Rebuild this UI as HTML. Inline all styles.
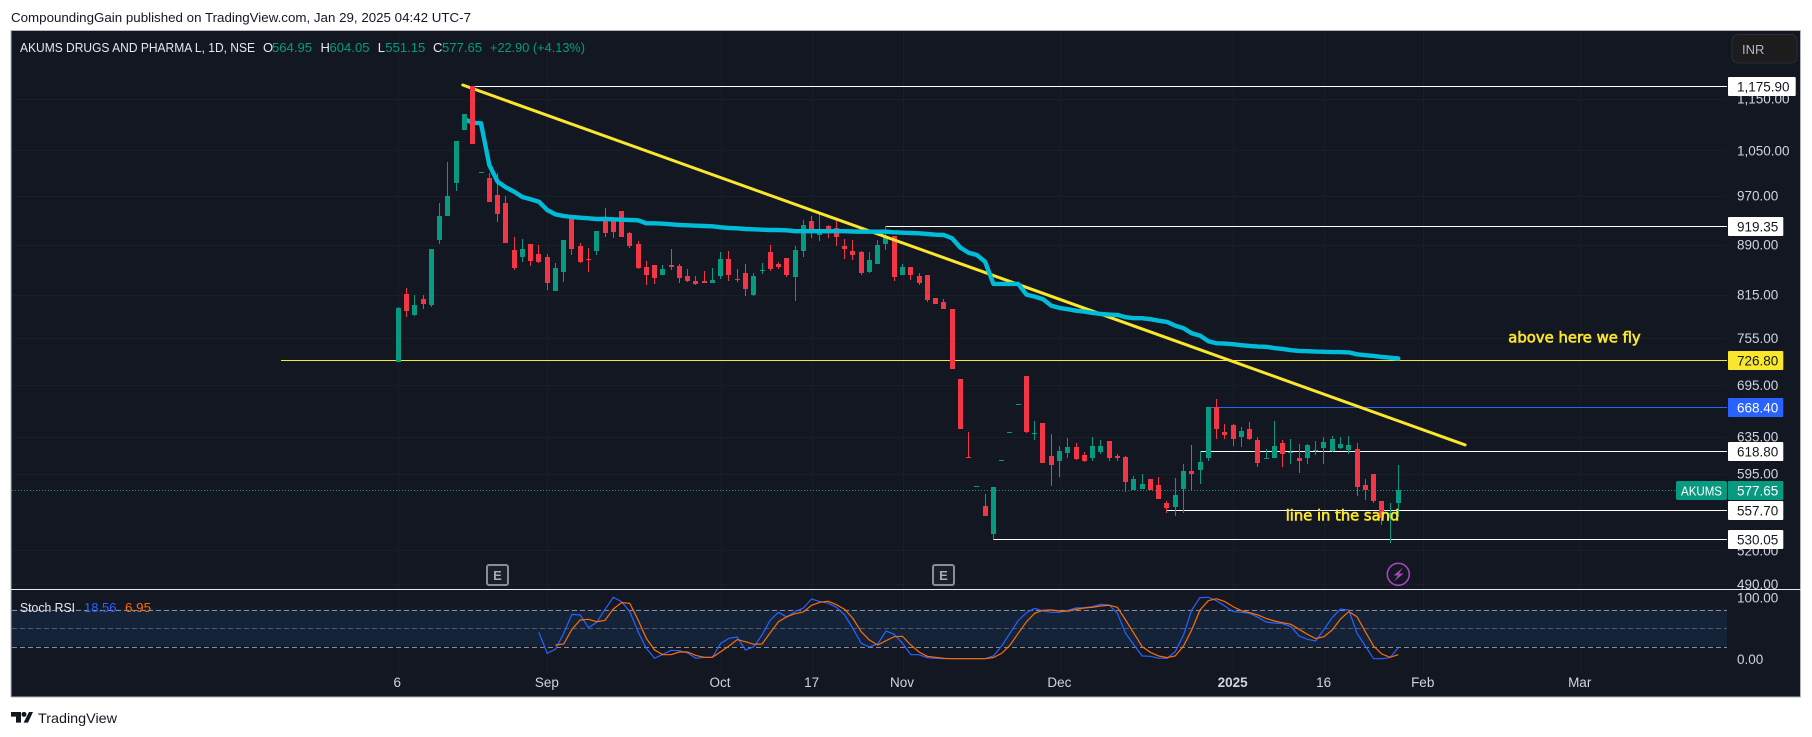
<!DOCTYPE html>
<html lang="en">
<head>
<meta charset="utf-8">
<title>AKUMS chart</title>
<style>
html,body{margin:0;padding:0;background:#fff;width:1812px;height:737px;overflow:hidden}
svg{display:block}
text{font-family:"Liberation Sans",sans-serif}
</style>
</head>
<body>
<svg id="chart" xmlns="http://www.w3.org/2000/svg" width="1812" height="737" viewBox="0 0 1812 737">
  <text x="11" y="22" font-size="13" fill="#131722" textLength="460" lengthAdjust="spacingAndGlyphs">CompoundingGain published on TradingView.com, Jan 29, 2025 04:42 UTC-7</text>
  <rect x="11" y="30.5" width="1789.5" height="666.5" fill="#131722" stroke="#b2b5be" stroke-width="1"/>
  <g id="grid"></g>
  <rect x="12" y="609" width="1715" height="37.5" fill="#142338"/>
  <g id="stoch-levels"></g>
  <g id="price-pane"></g>
  <g id="stoch-pane"></g>
  <g id="axis-labels"></g>
  <rect x="11" y="589" width="1790" height="1" fill="#e8e9ee"/>

  <text x="20" y="52" font-size="13" fill="#e6e8ee" textLength="235" lengthAdjust="spacingAndGlyphs">AKUMS DRUGS AND PHARMA L, 1D, NSE</text>
  <text x="263" y="52" font-size="13" fill="#e6e8ee">O</text>
  <text x="272" y="52" font-size="13" fill="#089981" textLength="40" lengthAdjust="spacingAndGlyphs">564.95</text>
  <text x="320.5" y="52" font-size="13" fill="#e6e8ee">H</text>
  <text x="329.5" y="52" font-size="13" fill="#089981" textLength="40" lengthAdjust="spacingAndGlyphs">604.05</text>
  <text x="377.7" y="52" font-size="13" fill="#e6e8ee">L</text>
  <text x="385.3" y="52" font-size="13" fill="#089981" textLength="40" lengthAdjust="spacingAndGlyphs">551.15</text>
  <text x="433" y="52" font-size="13" fill="#e6e8ee">C</text>
  <text x="442" y="52" font-size="13" fill="#089981" textLength="40" lengthAdjust="spacingAndGlyphs">577.65</text>
  <text x="490" y="52" font-size="13" fill="#089981" textLength="95" lengthAdjust="spacingAndGlyphs">+22.90 (+4.13%)</text>

  <text x="20" y="612" font-size="13" fill="#e6e8ee" textLength="55" lengthAdjust="spacingAndGlyphs">Stoch RSI</text>
  <text x="84" y="612" font-size="13" fill="#2962ff" textLength="32.5" lengthAdjust="spacingAndGlyphs">18.56</text>
  <text x="125" y="612" font-size="13" fill="#ff6d00" textLength="26" lengthAdjust="spacingAndGlyphs">6.95</text>

  <rect x="1732" y="34.5" width="65" height="28.5" rx="6" fill="#1c1c1c" stroke="#2a2e39"/>
  <text x="1742" y="54" font-size="13" fill="#b2b5be">INR</text>

  <text x="1508.3" y="342.5" style="font-family:'DejaVu Sans',sans-serif" font-size="14.8" fill="#fbe62e" stroke="#fbe62e" stroke-width="0.6" textLength="132.4" lengthAdjust="spacingAndGlyphs">above here we fly</text>
  <text x="1285.7" y="520.5" style="font-family:'DejaVu Sans',sans-serif" font-size="14.8" fill="#fbe62e" stroke="#fbe62e" stroke-width="0.6" textLength="113.6" lengthAdjust="spacingAndGlyphs">line in the sand</text>

  <g>
    <rect x="487" y="565" width="21" height="20" rx="2" fill="#1c1f28" stroke="#8a8d96" stroke-width="2"/>
    <text x="497.5" y="580" text-anchor="middle" font-size="13" font-weight="bold" fill="#a8abb3">E</text>
  </g>
  <g>
    <rect x="933" y="565" width="21" height="20" rx="2" fill="#1c1f28" stroke="#8a8d96" stroke-width="2"/>
    <text x="943.5" y="580" text-anchor="middle" font-size="13" font-weight="bold" fill="#a8abb3">E</text>
  </g>
  <g>
    <circle cx="1398.3" cy="574.3" r="11" fill="#131722" stroke="#a845ba" stroke-width="1.6"/>
    <path d="M1403 567.5 L1393.5 575.5 H1398 L1394 581.5 L1403.5 573.5 H1399 Z" fill="#a845ba"/>
  </g>

  <g>
    <path d="M11 712h10v10.6h-5v-6h-5z" fill="#131722"/>
    <circle cx="24" cy="714.4" r="2.5" fill="#131722"/>
    <path d="M29 712h4l-5 10.6h-4.4z" fill="#131722"/>
    <text x="38" y="723" font-size="14" fill="#131722" textLength="79" lengthAdjust="spacingAndGlyphs">TradingView</text>
  </g>
</svg>
<script>
const opens = [
724.1,816,786.4,808.8,800.3,897.1,935.8,991.6,1088.4,1175.9,
1010.4,1000.3,970.9,957.3,881.5,870.7,890.9,875.3,870.7,820.3,
848,930.8,887.7,867.6,880,929.2,927.6,944,908.2,890.9,
855.5,858.5,843.6,858.5,857,842.1,834.8,834.8,831.8,842.1,
867.6,837.7,846.5,814.6,849.5,878.4,860.1,869.2,840.7,880,
927.6,905,919.5,916.2,887.7,880,878.4,848,860.1,890.9,
903.5,843.6,855.5,842.1,843.6,810.2,804.6,794.7,702.7,612.8,
582,562.2,535.3,609.3,639.8,672.2,706.5,638.1,650.5,613.9,
608.5,617.1,623.7,615,611.8,618.2,630.3,613.9,612.8,578.3,
579.3,589.5,583.4,565.2,561.2,579.3,597.9,598.9,611.8,669,
640.3,648.2,634.7,643.6,631.4,610.7,611.8,628.1,617.1,611.8,
611.8,619.3,622.6,619.3,622.6,620.4,621.5,583.4,594.7,567.2,
550.5,564.95];
const highs = [
797.5,824.6,814.6,814.6,883,957.3,1028.9,1067.5,1119.4,1175.9,
1010.4,1009.2,1009.2,969.2,901.9,898.7,890.9,889.3,875.3,861.6,
897.1,930.8,892.4,884.6,911.4,949,929.2,944,909.8,895.5,
864.6,858.5,858.5,883,860.1,852.5,842.1,849.5,854,878.4,
880,852.5,860.1,846.5,861.6,889.3,863.1,869.2,887.7,929.2,
935.8,940.6,921.1,927.6,898.7,897.1,880,878.4,897.1,919.5,
903.5,860.1,855.5,846.5,843.6,810.2,808.8,794.7,702.7,640.3,
582,574.2,581.3,609.3,639.8,672.2,706.5,652.8,650.5,638.1,
624.8,633.6,628.1,618.2,634.7,631.4,630.3,616.1,613.9,592.7,
594.7,589.5,591.6,567.2,590.6,605.3,625.9,619.3,669,678.5,
649.3,649.3,645.9,651.6,634.7,621.5,652.8,631.4,632.5,627,
627,630.3,634.7,635.8,634.7,635.8,628.1,589.5,594.7,567.2,
565.2,604.05];
const lows = [
724.1,783.6,785,794.7,797.5,890.9,935.8,977.8,1088.4,1062,
1010.4,959,926,892.4,851,863.1,857,861.6,821.7,820.3,
833.3,873.8,861.6,848,873.8,901.9,900.3,901.9,884.6,852.5,
829,830.4,843.6,851,831.8,833.3,829,831.8,831.8,837.7,
834.8,833.3,813.1,813.1,845,849.5,852.5,840.7,806,870.7,
900.3,895.5,900.3,887.7,867.6,866.1,843.6,846.5,860.1,881.5,
834.8,843.6,836.2,829,804.6,801.7,794.7,715.3,643.6,611.8,
582,552.5,530.6,609.3,639.8,672.2,639.2,631.4,606.4,582.4,
591.6,611.8,609.6,607.5,608.5,616.1,608.5,608.5,576.3,578.3,
579.3,578.3,569.2,555.4,552.5,555.4,577.3,584.4,608.5,632.5,
632.5,624.8,623.7,631.4,602.1,610.7,611.8,602.1,605.3,595.7,
605.3,615,605.3,618.2,621.5,616.1,572.2,568.2,565.2,543.8,
527,551.15];
const closes = [
796.1,791.9,800.3,801.7,883,935.8,969.2,1067.5,1119.4,1062,
1010.4,959,939,892.4,854,883,864.6,863.1,831.8,854,
897.1,883,863.1,866.1,911.4,908.2,909.8,901.9,887.7,854,
843.6,839.2,852.5,855.5,839.2,834.8,830.4,831.8,836.2,867.6,
843.6,836.2,823.2,842.1,851,852.5,855.5,843.6,881.5,921.1,
913,909.8,913,901.9,883,873.8,846.5,866.1,889.3,903.5,
840.7,855.5,843.6,831.8,807.4,801.7,794.7,715.3,643.6,611.8,
582,552.5,581.3,609.3,639.8,672.2,640.3,639.2,606.4,604.2,
619.3,623.7,610.7,608.5,624.8,624.8,611.8,611.8,586.5,589.5,
584.4,578.3,569.2,560.3,573.2,597.9,594.7,607.5,669,643.6,
637,632.5,641.4,632.5,606.4,611.8,624.8,616.1,618.2,608.5,
625.9,620.4,629.2,632.5,627,625.9,581.3,578.3,567.2,550.5,
555.4,577.65];
const avwapStart = 8;
const avwap = [
1109.1,1102.4,1101.3,1023.5,993.9,984.2,976.6,967.5,963.6,959.5,
945.6,938.5,935.8,934.1,933,932,930.8,930.8,930.3,929.7,
929.2,928.7,923.8,923.8,923.1,922.2,921.1,920.6,919.9,919.5,
919,917.4,916.2,915.7,914.6,914.1,913.5,913,913,912.5,
911,911,911,911,911,911,911,910.6,910.3,910.3,
910.3,910.3,909.3,908.7,908.2,907.7,906.6,905.5,905,899.8,
885.1,877.3,873.8,863.5,830.4,830.4,830.4,830.4,815,812.1,
808.4,799.3,796.1,794.3,792.3,791,789.1,787.8,786.8,786.4,
783.2,781.9,781.9,780.5,778.5,776.8,771.8,768.2,761.4,758.3,
750.9,748.2,747.7,747,745.6,744.7,743.8,743.5,741.8,740.8,
739.1,738.2,737.8,737.3,737,736.7,736.6,736.3,733.8,732.7,
731.8,730.5,729.5,728.4];
const stochKStart = 17;
const stochK = [
43.2,9.2,15.7,41.6,72.4,71.4,50.8,59.5,80.5,100,93,76.8,44.3,17.3,1.1,7.6,14.1,13.5,9.7,1.1,
2.7,2.7,25.4,33.5,35.7,14.6,20,38.9,63.2,75.7,68.1,76.8,82.7,97.3,93,90.3,83.8,71.4,49.7,25.4,
19.5,24.3,45.4,40,25.4,7,7,2.2,1.1,0.5,0.5,0.5,0.5,0.5,0.5,4.9,21.1,41.6,62.2,75.1,
82.2,77.8,75.7,75.7,78.9,82.7,83.2,84.9,88.6,87.6,74.1,41.6,22.7,4.9,4.3,1.1,1.1,11.9,38.9,79.5,
99.5,100,94.6,85.9,76.8,75.7,74.1,67.6,60,58.4,57.3,52.4,37.3,31.9,29.2,48.1,67,81.1,79.5,41.6,
21.1,0.5,0.5,2.2,18.56];
const stochDStart = 19;
const stochD = [
22.7,24.3,48.1,63.2,64.3,60.5,62.7,81.1,91.4,90.3,63.2,33.5,14.6,7,7,11.4,11.4,5.9,
2.7,2.7,11.9,21.1,31.4,28.1,23.8,24.3,42.7,60.5,68.6,73.5,76.2,87,91.9,93.5,88.1,80.5,65.9,44.3,
30.8,22.7,29.7,36.2,36.8,22.7,11.4,4.3,2.7,1.1,0.5,0.5,0.5,0.5,0.5,2.2,9.2,22.2,41.6,60.5,
74.1,78.9,79.5,77.8,77.3,80.5,82.7,83.8,85.9,87,83.8,63.2,41.6,20,10.8,4.9,2.2,4.9,21.1,47,
79.5,94.6,97.8,93,84.9,78.4,75.1,71.4,65.9,61.6,58.9,56.2,48.1,40,33,36.2,47,64.9,76.8,68.6,
44.3,21.1,8.1,2.7,6.95];
const priceTicks = [1150,1050,970,890,815,755,695,635,595,520,490];
const priceTickLabels = ["1,150.00","1,050.00","970.00","890.00","815.00","755.00","695.00","635.00","595.00","520.00","490.00"];
const stochTicks = [100,0];
const stochTickLabels = ["100.00","0.00"];
const stochLevels = [80,50,20];
const timeLabels = ["6","Sep","Oct","17","Nov","Dec","2025","16","Feb","Mar"];
const timeIndex = [0,18,39,50,61,80,101,112,124,143];
const levelValues = [1175.90,919.35,726.80,668.40,618.80,557.70,530.05];
const levelLabels = ["1,175.90","919.35","726.80","668.40","618.80","557.70","530.05"];
const levelStart = [9,59,-14.2,98,97,93,72];
const trendIndex = [7.79,129.08];
const trendPrice = [1178,625.8];
const lastPrice = 577.65;
const lastPriceLabel = "577.65";
const tickerLabel = "AKUMS";

const levelLine = {"1,175.90":"#ffffff","919.35":"#ffffff","726.80":"#fbe62e","668.40":"#2962ff","618.80":"#ffffff","557.70":"#ffffff","530.05":"#ffffff"};
const levelText = {"668.40":"#ffffff"};
const UP = "#089981", DOWN = "#f23645";
const SVGNS = "http://www.w3.org/2000/svg";

function xOf(i){ return 398.4 + 8.264 * i; }
function yOf(p){ return 86 + 569 * Math.log(1175.9 / p); }
function yStoch(v){ return 659 - 0.6167 * v; }

function mk(parent, tag, attrs){
  const el = document.createElementNS(SVGNS, tag);
  for (const k in attrs) el.setAttribute(k, attrs[k]);
  parent.appendChild(el);
  return el;
}

const grid = document.getElementById("grid");
const pricePane = document.getElementById("price-pane");
const stochPane = document.getElementById("stoch-pane");
const axisLabels = document.getElementById("axis-labels");
const stochLevelGroup = document.getElementById("stoch-levels");

timeIndex.forEach(function(idx){
  const x = Math.round(xOf(idx)) + 0.5;
  const g = mk(grid, "line", {x1:x, x2:x, y1:31, y2:673, stroke:"#1a1e29", "stroke-width":1});
  
  
});
priceTicks.forEach(function(p){
  const y = Math.round(yOf(p)) + 0.5;
  const g = mk(grid, "line", {x1:12, x2:1727, y1:y, y2:y, stroke:"#1a1e29", "stroke-width":1});
  
  
});

stochLevels.forEach(function(v, k){
  const y = Math.round(yStoch(v)) + 0.5;
  const l = mk(stochLevelGroup, "line", {x1:12, x2:1727, y1:y, y2:y, stroke:k === 1 ? "#565a66" : "#8a8d96", "stroke-width":1, "stroke-dasharray":"5 3"});
  
  
});

function drawCandle(parent, i){
  const color = closes[i] >= opens[i] ? UP : DOWN;
  const bx = Math.round(xOf(i) - 2.5);
  const top = Math.round(yOf(Math.max(opens[i], closes[i])));
  const bot = Math.round(yOf(Math.min(opens[i], closes[i])));
  const g = mk(parent, "g", {"shape-rendering":"crispEdges", fill:color});
  
  
  const hy = Math.round(yOf(highs[i]));
  const ly = Math.round(yOf(lows[i]));
  mk(g, "rect", {x:bx + 2, y:hy, width:1, height:Math.max(1, ly - hy)});
  mk(g, "rect", {x:bx, y:top, width:5, height:Math.max(1, bot - top)});
}

// dotted last-price line
const lastY = Math.round(yOf(lastPrice)) + 0.5;
const lastLine = mk(pricePane, "line", {x1:12, x2:1676, y1:lastY, y2:lastY, stroke:UP, "stroke-width":1, "stroke-dasharray":"1 2"});



// horizontal drawn levels
levelValues.forEach(function(v, k){
  const y = Math.round(yOf(v)) + 0.5;
  const line = mk(pricePane, "line", {x1:xOf(levelStart[k]), x2:1727, y1:y, y2:y, stroke:levelLine[levelLabels[k]], "stroke-width":1.1});
  
  
});

// candles (all after the first ten sit below the cyan line)
for (let i = 10; i < opens.length; i++) drawCandle(pricePane, i);

// cyan anchored average
const avwapPath = avwap.map(function(v, k){
  return (k ? "L" : "M") + xOf(avwapStart + k).toFixed(1) + " " + yOf(v).toFixed(1);
}).join(" ");
const avwapLine = mk(pricePane, "path", {d:avwapPath, fill:"none", stroke:"#00bcd8", "stroke-width":4.4, "stroke-linejoin":"round", "stroke-linecap":"round"});



for (let i = 0; i < 10; i++) drawCandle(pricePane, i);

// yellow trend line
const trend = mk(pricePane, "line", {x1:xOf(trendIndex[0]), y1:yOf(trendPrice[0]), x2:xOf(trendIndex[1]), y2:yOf(trendPrice[1]), stroke:"#fbe62e", "stroke-width":3, "stroke-linecap":"round"});


pricePane.insertBefore(trend, avwapLine);

// stochastic lines
function stochPath(vals, start){
  return vals.map(function(v, k){
    return (k ? "L" : "M") + xOf(start + k).toFixed(1) + " " + yStoch(v).toFixed(1);
  }).join(" ");
}
const kLine = mk(stochPane, "path", {d:stochPath(stochK, stochKStart), fill:"none", stroke:"#2962ff", "stroke-width":1.2});


const dLine = mk(stochPane, "path", {d:stochPath(stochD, stochDStart), fill:"none", stroke:"#ff6d00", "stroke-width":1.2});



// axis tick labels
priceTicks.forEach(function(p, k){
  const t = mk(axisLabels, "text", {x:1737, y:yOf(p) + 5, "font-size":13.5, fill:"#d1d4dc"});
  
  
  t.textContent = priceTickLabels[k];
});
stochTicks.forEach(function(v, k){
  const t = mk(axisLabels, "text", {x:1737, y:yStoch(v) + 5, "font-size":13.5, fill:"#d1d4dc"});
  
  
  t.textContent = stochTickLabels[k];
});
const timeLabelX = [397.3,546.9,720,811.6,902,1059.4,1232.6,1323.7,1422.7,1579.7];
timeLabels.forEach(function(lbl, k){
  const t = mk(axisLabels, "text", {x:timeLabelX[k], y:687, "font-size":13.5, fill:"#d1d4dc", "text-anchor":"middle", "font-weight":lbl === "2025" ? "bold" : "normal"});
  
  
  t.textContent = lbl;
});

// price labels on the axis
levelValues.forEach(function(v, k){
  const y = Math.round(yOf(v)) - 9;
  const text = levelLabels[k];
  const boxWidth = text.length > 6 ? 67.7 : 55.3;
  const fillCol = levelLine[text];
  const g = mk(axisLabels, "g", {});
  
  
  mk(g, "rect", {x:1728, y:y, width:boxWidth, height:19, fill:fillCol, rx:1});
  const t = mk(g, "text", {x:1737, y:y + 14.5, "font-size":13.5, fill:levelText[text] || "#131722"});
  t.textContent = text;
});
(function(){
  const y = Math.round(yOf(lastPrice)) - 9;
  const g = mk(axisLabels, "g", {});
  
  
  mk(g, "rect", {x:1676, y:y, width:51, height:19, fill:UP, rx:2});
  mk(g, "rect", {x:1728, y:y, width:55.3, height:19, fill:UP, rx:1});
  const a = mk(g, "text", {x:1681, y:y + 14.5, "font-size":13, fill:"#ffffff", textLength:41, lengthAdjust:"spacingAndGlyphs"});
  a.textContent = tickerLabel;
  const b = mk(g, "text", {x:1737, y:y + 14.5, "font-size":13.5, fill:"#ffffff"});
  b.textContent = lastPriceLabel;
})();
</script>
</body>
</html>
